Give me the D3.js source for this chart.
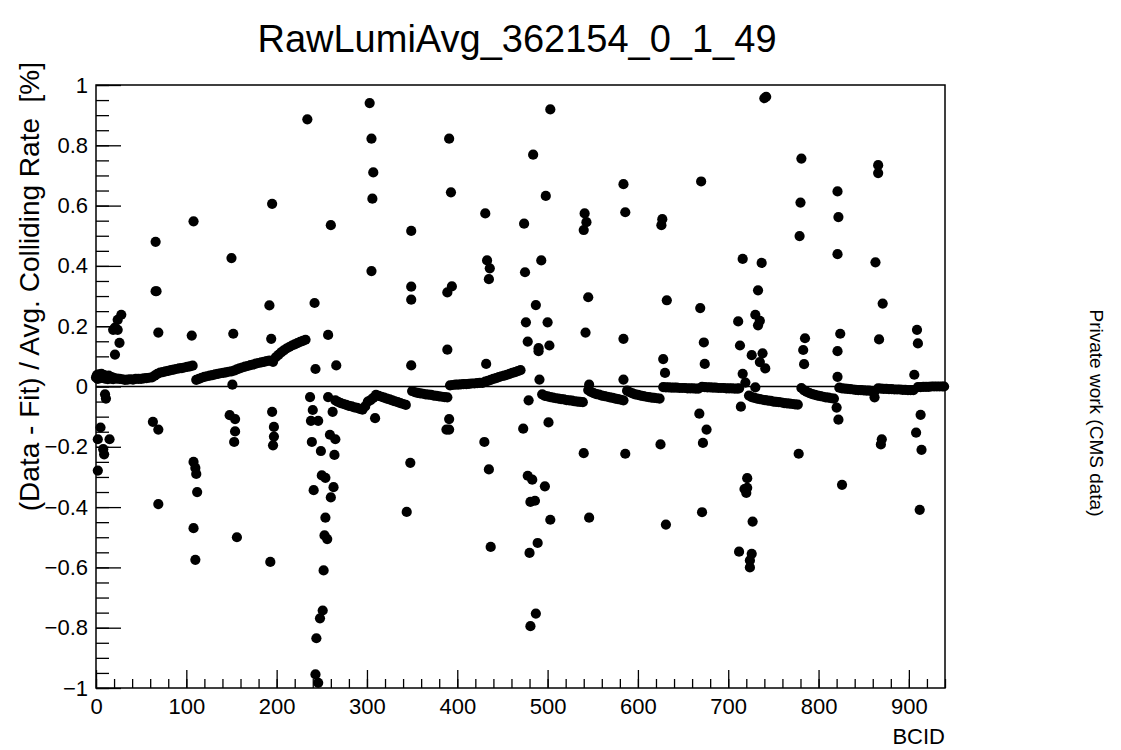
<!DOCTYPE html>
<html>
<head>
<meta charset="utf-8">
<script src="https://cdn.jsdelivr.net/npm/d3@7"></script>
<style>
  body { margin: 0; background: #fff; }
  svg { display: block; font-family: 'Liberation Sans', Arial, Helvetica, sans-serif; }
  .keep-space { white-space: pre; }
</style>
</head>
<body>
<div id="chart"></div>
<script>
const title = 'RawLumiAvg_362154_0_1_49'
const xTitle = 'BCID'
const yTitle = '(Data - Fit) / Avg. Colliding Rate  [%]'
const note = 'Private work (CMS data)'

const xTicks = [0, 100, 200, 300, 400, 500, 600, 700, 800, 900]
const yTicks = [-1, -0.8, -0.6, -0.4, -0.2, 0, 0.2, 0.4, 0.6, 0.8, 1]

// bunch trains
const trainBcid = [
  0, 1, 2, 3, 4, 5, 6, 7, 8, 9, 10, 11, 12, 13, 14, 15, 16, 17, 18, 19, 20,
  23, 26, 29, 32, 35, 38, 41, 44, 47, 50, 53, 56, 59, 62,
  65, 68, 71, 74, 77, 80, 83, 86, 89, 92, 95, 98, 101, 104, 107,
  111, 114, 117, 120, 123, 126, 129, 132, 135, 138, 141, 144, 147, 150,
  153, 156, 159, 162, 165, 168, 171, 174, 177, 180, 183, 186, 189, 192,
  196, 199, 202, 205, 208, 211, 214, 217, 220, 223, 226, 229, 232,
  265, 268, 271, 274, 277, 280, 283, 286, 289, 292, 295, 298, 301, 304, 307,
  310, 313, 316, 319, 322, 325, 328, 331, 334, 337, 340, 343,
  350, 353, 356, 359, 362, 365, 368, 371, 374, 377, 380, 383, 386, 389,
  392, 395, 398, 401, 404, 407, 410, 413, 416, 419, 422, 425, 428,
  431, 434, 437, 440, 443, 446, 449, 452, 455, 458, 461, 464, 467, 470,
  494, 497, 500, 503, 506, 509, 512, 515, 518, 521, 524, 527, 530, 533, 536, 539,
  545, 548, 551, 554, 557, 560, 563, 566, 569, 572, 575, 578, 581, 584,
  588, 591, 594, 597, 600, 603, 606, 609, 612, 615, 618, 621, 624,
  628, 631, 634, 637, 640, 643, 646, 649, 652, 655, 658, 661, 664, 667,
  671, 674, 677, 680, 683, 686, 689, 692, 695, 698, 701, 704, 707, 710,
  723, 726, 729, 732, 735, 738, 741, 744, 747, 750, 753, 756, 759, 762, 765, 768, 771, 774, 777,
  781, 784, 787, 790, 793, 796, 799, 802, 805, 808, 811, 814, 817,
  823, 826, 829, 832, 835, 838, 841, 844, 847, 850, 853, 856, 859, 862,
  866, 869, 872, 875, 878, 881, 884, 887, 890, 893, 896, 899, 902, 905,
  910, 913, 916, 919, 922, 925, 928, 931, 934, 937, 939
]
const trainDelta = [
  0.030, 0.038, 0.025, 0.040, 0.032, 0.028, 0.042, 0.035, 0.030, 0.038, 0.026, 0.034, 0.030, 0.024, 0.036, 0.028, 0.032, 0.026, 0.030, 0.024, 0.028,
  0.026, 0.025, 0.024, 0.022, 0.023, 0.024, 0.023, 0.025, 0.025, 0.025, 0.027, 0.028, 0.029, 0.030,
  0.036, 0.042, 0.046, 0.048, 0.050, 0.052, 0.054, 0.056, 0.058, 0.060, 0.061, 0.063, 0.065, 0.067, 0.069,
  0.022, 0.025, 0.029, 0.032, 0.034, 0.036, 0.038, 0.040, 0.042, 0.044, 0.045, 0.047, 0.049, 0.050,
  0.053, 0.057, 0.060, 0.063, 0.066, 0.068, 0.071, 0.073, 0.076, 0.078, 0.080, 0.082, 0.084, 0.086,
  0.082, 0.097, 0.105, 0.113, 0.120, 0.126, 0.131, 0.136, 0.140, 0.144, 0.148, 0.151, 0.155,
  -0.046, -0.051, -0.055, -0.058, -0.061, -0.064, -0.066, -0.069, -0.071, -0.074, -0.077, -0.066, -0.050, -0.045, -0.038,
  -0.028, -0.031, -0.034, -0.037, -0.040, -0.043, -0.046, -0.049, -0.052, -0.055, -0.058, -0.061,
  -0.015, -0.019, -0.021, -0.023, -0.024, -0.026, -0.027, -0.028, -0.030, -0.031, -0.033, -0.034, -0.035, -0.036,
  0.004, 0.005, 0.006, 0.006, 0.007, 0.008, 0.008, 0.009, 0.010, 0.010, 0.011, 0.012, 0.012,
  0.016, 0.019, 0.022, 0.025, 0.028, 0.031, 0.034, 0.036, 0.039, 0.042, 0.045, 0.048, 0.051, 0.054,
  -0.026, -0.031, -0.033, -0.035, -0.037, -0.039, -0.040, -0.042, -0.043, -0.045, -0.046, -0.047, -0.049, -0.050, -0.051, -0.052,
  -0.012, -0.018, -0.022, -0.025, -0.027, -0.030, -0.032, -0.034, -0.036, -0.038, -0.040, -0.042, -0.044, -0.046,
  -0.014, -0.019, -0.023, -0.026, -0.028, -0.030, -0.032, -0.034, -0.035, -0.037, -0.038, -0.039, -0.040,
  -0.002, -0.003, -0.003, -0.004, -0.004, -0.004, -0.005, -0.005, -0.005, -0.006, -0.006, -0.006, -0.007, -0.007,
  -0.001, -0.002, -0.003, -0.003, -0.004, -0.004, -0.005, -0.005, -0.005, -0.006, -0.006, -0.006, -0.007, -0.007,
  -0.030, -0.035, -0.038, -0.040, -0.042, -0.044, -0.045, -0.047, -0.048, -0.050, -0.051, -0.052, -0.053, -0.055, -0.056, -0.057, -0.058, -0.059, -0.060,
  -0.005, -0.013, -0.018, -0.022, -0.025, -0.028, -0.030, -0.032, -0.034, -0.036, -0.037, -0.039, -0.040,
  -0.004, -0.006, -0.007, -0.008, -0.009, -0.010, -0.011, -0.012, -0.012, -0.013, -0.014, -0.014, -0.015, -0.016,
  -0.006, -0.007, -0.008, -0.008, -0.009, -0.009, -0.010, -0.010, -0.010, -0.011, -0.011, -0.012, -0.012, -0.012,
  -0.002, -0.002, -0.001, -0.001, -0.001, 0.000, 0.000, 0.000, 0.000, 0.000, 0.000
]

// leading bunches that stick out of the trains
const spikeBcid = [
  2, 2, 5, 8, 9, 10, 11, 15, 19, 21, 21, 24, 24, 26, 28,
  66, 66, 67, 69, 63, 69, 69,
  108, 106, 108, 110, 111, 112, 108, 110,
  150, 152, 151, 148, 154, 154, 153, 156,
  195, 192, 194, 195, 197, 197, 196, 193,
  234, 242, 243, 257, 260, 266, 237, 257, 240, 238, 246, 262, 239, 249, 259, 265,
  264, 250, 254, 241, 263, 260, 254, 253, 256, 252, 251, 248, 244, 243, 246,
  303, 305, 307, 306, 305, 309,
  349, 349, 349, 349, 348, 344,
  391, 393, 394, 389, 389, 391, 391, 388,
  431, 433, 436, 435, 432, 430, 435, 437,
  474, 475, 476, 478, 484, 487, 490, 490, 491, 493, 498, 500, 502, 503,
  479, 473, 501, 478, 483, 497, 481, 486, 503, 489, 480, 487, 481,
  541, 543, 540, 545, 542, 546, 540, 546,
  584, 586, 584, 584, 586,
  627, 626, 632, 628, 630, 625, 631,
  670, 669, 673, 674, 668, 676, 672, 671,
  711, 713, 716, 716, 719, 714, 712, 721, 718, 720, 721, 712, 724, 724,
  726, 727, 726, 730, 730, 733, 733, 735, 735, 737, 738, 740, 742, 741,
  781, 780, 779, 785, 783, 784, 778,
  821, 822, 821, 824, 821, 821, 820, 822, 826,
  866, 866, 863, 871, 867, 862, 870, 869,
  909, 910, 906, 913, 908, 914, 912
]
const spikeDelta = [
  -0.175, -0.279, -0.136, -0.208, -0.225, -0.026, -0.040, -0.175, 0.188, 0.195, 0.106, 0.188, 0.221, 0.145, 0.238,
  0.480, 0.316, 0.316, 0.179, -0.117, -0.143, -0.390,
  0.548, 0.169, -0.250, -0.270, -0.290, -0.350, -0.470, -0.575,
  0.426, 0.175, 0.006, -0.095, -0.108, -0.149, -0.184, -0.500,
  0.606, 0.269, 0.158, -0.084, -0.134, -0.166, -0.195, -0.582,
  0.886, 0.277, 0.058, 0.171, 0.535, 0.070, -0.035, -0.035, -0.078, -0.114, -0.114, -0.084, -0.184, -0.214, -0.160, -0.175,
  -0.227, -0.295, -0.303, -0.344, -0.334, -0.368, -0.435, -0.494, -0.506, -0.610, -0.743, -0.769, -0.835, -0.955, -0.983,
  0.940, 0.822, 0.710, 0.623, 0.383, -0.105,
  0.516, 0.331, 0.288, 0.070, -0.253, -0.416,
  0.822, 0.644, 0.332, 0.312, 0.122, -0.108, -0.143, -0.143,
  0.574, 0.418, 0.392, 0.356, 0.075, -0.184, -0.275, -0.532,
  0.540, 0.379, 0.213, 0.149, 0.769, 0.270, 0.117, 0.127, 0.023, 0.418, 0.632, 0.213, 0.136, 0.919,
  -0.046, -0.140, -0.119, -0.296, -0.309, -0.331, -0.383, -0.379, -0.442, -0.519, -0.552, -0.753, -0.795,
  0.574, 0.545, 0.519, 0.296, 0.179, 0.006, -0.221, -0.435,
  0.671, 0.578, 0.158, 0.023, -0.223,
  0.555, 0.535, 0.286, 0.091, 0.045, -0.192, -0.458,
  0.680, 0.260, 0.146, 0.075, -0.090, -0.143, -0.187, -0.417,
  0.216, 0.136, 0.423, 0.042, 0.013, -0.067, -0.006, -0.304, -0.340, -0.353, -0.336, -0.548, -0.577, -0.600,
  -0.555, -0.448, 0.104, 0.238, -0.003, 0.319, 0.203, 0.218, 0.081, 0.410, 0.110, 0.956, 0.961, 0.060,
  0.756, 0.610, 0.499, 0.160, 0.121, 0.074, -0.223,
  0.647, 0.562, 0.439, 0.175, 0.117, 0.032, -0.070, -0.110, -0.326,
  0.734, 0.708, 0.412, 0.275, 0.156, -0.036, -0.175, -0.192,
  0.188, 0.143, 0.039, -0.094, -0.153, -0.210, -0.409
]

const points = trainBcid.map((b, i) => ({ bcid: b, delta: trainDelta[i] }))
  .concat(spikeBcid.map((b, i) => ({ bcid: b, delta: spikeDelta[i] })))

const fullWidth = 1121,
  fullHeight = 750,
  margin = { top: 85, right: 176, bottom: 62, left: 96 },
  width = fullWidth - margin.left - margin.right,
  height = fullHeight - margin.top - margin.bottom

const x = d3.scaleLinear().domain([0, 940]).range([0, width])
const y = d3.scaleLinear().domain([-1, 1]).range([height, 0])

const fmt = v => (v < 0 ? '\u2212' : '') + d3.format('~g')(Math.abs(v))

const svg = d3.select('#chart')
  .append('svg')
  .attr('width', fullWidth)
  .attr('height', fullHeight)

svg.append('rect')
  .attr('width', fullWidth)
  .attr('height', fullHeight)
  .attr('fill', '#fff')

const g = svg.append('g')
  .attr('transform', `translate(${margin.left}, ${margin.top})`)

// minor ticks first, majors on top (ROOT ticks point inward)
g.append('g')
  .call(d3.axisLeft(y).tickValues(d3.range(-20, 21).map(i => i * 0.05)).tickSize(-13).tickSizeOuter(0).tickFormat(''))
  .call(a => a.select('.domain').remove())

g.append('g')
  .attr('transform', `translate(0, ${height})`)
  .call(d3.axisBottom(x).tickValues(d3.range(0, 941, 20)).tickSize(-9).tickSizeOuter(0).tickFormat(''))
  .call(a => a.select('.domain').remove())

const yAxis = g.append('g')
  .call(d3.axisLeft(y).tickValues(yTicks).tickSize(-25).tickSizeOuter(0).tickPadding(8).tickFormat(fmt))

const xAxis = g.append('g')
  .attr('transform', `translate(0, ${height})`)
  .call(d3.axisBottom(x).tickValues(xTicks).tickSize(-18).tickSizeOuter(0).tickPadding(10).tickFormat(fmt))

;[yAxis, xAxis].forEach(a => {
  a.select('.domain').remove()
  a.selectAll('text')
    .attr('font-size', 22)
    .attr('font-family', "'Liberation Sans', Arial, sans-serif")
    .attr('fill', '#000')
})

g.selectAll('.tick line')
  .attr('stroke', '#000')
  .attr('stroke-width', 1.3)

// zero reference line
g.append('line')
  .attr('x1', x(0))
  .attr('x2', x(940))
  .attr('y1', y(0))
  .attr('y2', y(0))
  .attr('stroke', '#000')
  .attr('stroke-width', 1.5)

g.append('g')
  .selectAll('circle')
  .data(points)
  .enter()
  .append('circle')
    .attr('cx', d => x(d.bcid))
    .attr('cy', d => y(d.delta))
    .attr('r', 5.1)
    .attr('fill', '#000')

// frame
g.append('rect')
  .attr('width', width)
  .attr('height', height)
  .attr('fill', 'none')
  .attr('stroke', '#000')
  .attr('stroke-width', 1.5)

svg.append('text')
  .attr('x', 517)
  .attr('y', 52)
  .attr('text-anchor', 'middle')
  .attr('font-size', 38)
  .text(title)

svg.append('text')
  .attr('x', margin.left + width)
  .attr('y', 744)
  .attr('text-anchor', 'end')
  .attr('font-size', 22)
  .text(xTitle)

svg.append('text')
  .attr('class', 'keep-space')
  .attr('transform', 'translate(39, 62) rotate(-90)')
  .attr('text-anchor', 'end')
  .attr('font-size', 28)
  .text(yTitle)

svg.append('text')
  .attr('transform', 'translate(1090, 413) rotate(90)')
  .attr('text-anchor', 'middle')
  .attr('font-size', 19)
  .text(note)
</script>
</body>
</html>
